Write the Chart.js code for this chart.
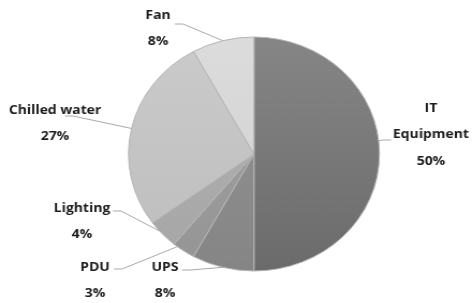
<!DOCTYPE html>
<html>
<head>
<script src="https://cdn.jsdelivr.net/npm/chart.js@4.4.1/dist/chart.umd.min.js"></script>
<style>
    html, body { margin: 0; padding: 0; background: #fff; overflow: hidden; }
    #wrap { width: 440px; height: 303px; transform: scaleX(1.0727); transform-origin: 0 0; }
</style>
</head>
<body>
<div id="wrap">
    <canvas id="pieChart" width="440" height="303"></canvas>
</div>

<script>
    // data
    var categories = ["IT Equipment", "UPS", "PDU", "Lighting", "Chilled water", "Fan"];
    var shares = [50, 8, 3, 4, 27, 8];

    // grey shades, top and bottom of the pie
    var shadeTop = ["#868686", "#959595", "#a2a2a2", "#b2b2b2", "#cbcbcb", "#dcdcdc"];
    var shadeBottom = ["#6b6b6b", "#858585", "#959595", "#a6a6a6", "#bdbdbd", "#d0d0d0"];

    // label placement in page pixels: lines of text, centre of first line,
    // where the leader starts, which way the elbow goes, where on the slice it ends
    var sx = 472 / 440;
    var labelLines = [["IT", "Equipment"], ["UPS"], ["PDU"], ["Lighting"], ["Chilled water"], ["Fan"]];
    var labelPos = [[431, 108], [165, 267], [95, 267], [82, 208], [55, 110], [158, 15]];
    var leadStart = [[391, 140], [182, 270], [114, 269], [113, 211], [65, 116], [175, 24]];
    var leadDir = [-1, 1, 1, 1, 1, 1];
    var leadAt = [0.464, 0.5, 0.82, 0.64, 0.5, 0.5];

    var lineGap = 26.5;

    var labelPlugin = {
        id: "outLabels",
        afterDatasetsDraw: function (chart) {
            var ctx = chart.ctx;
            var arcs = chart.getDatasetMeta(0).data;
            var total = shares.reduce(function (a, b) { return a + b; }, 0);
            ctx.save();
            // leader lines
            ctx.strokeStyle = "#a8a8a8";
            ctx.lineWidth = 1;
            for (var i = 0; i < arcs.length; i++) {
                var a = arcs[i];
                var ang = a.startAngle + leadAt[i] * (a.endAngle - a.startAngle);
                var px = a.x + a.outerRadius * Math.cos(ang);
                var py = a.y + a.outerRadius * Math.sin(ang);
                var x0 = leadStart[i][0] / sx;
                var y0 = leadStart[i][1];
                ctx.beginPath();
                ctx.moveTo(x0, y0);
                ctx.lineTo(x0 + leadDir[i] * 8 / sx, y0);
                ctx.lineTo(px, py);
                ctx.stroke();
            }
            // texts
            ctx.fillStyle = "#1c1c1c";
            ctx.font = "bold 13px 'Open Sans'";
            ctx.textAlign = "center";
            ctx.textBaseline = "middle";
            for (var j = 0; j < arcs.length; j++) {
                var lines = labelLines[j].concat([Math.round(shares[j] / total * 100) + "%"]);
                var tx = labelPos[j][0] / sx;
                for (var k = 0; k < lines.length; k++) {
                    ctx.fillText(lines[k], tx, labelPos[j][1] + k * lineGap);
                }
            }
            ctx.restore();
        }
    };

    function shade(context) {
        var chart = context.chart;
        var area = chart.chartArea;
        var i = context.dataIndex;
        if (!area) return shadeTop[i];
        var g = chart.ctx.createLinearGradient(0, area.top, 0, area.bottom);
        g.addColorStop(0, shadeTop[i]);
        g.addColorStop(1, shadeBottom[i]);
        return g;
    }

    var cx = 254 / sx, cy = 154, r = 117.5;
    var pie = new Chart(document.getElementById("pieChart").getContext("2d"), {
        type: "pie",
        data: {
            labels: categories,
            datasets: [{
                data: shares,
                backgroundColor: shade,
                borderColor: "#b4b4b4",
                borderWidth: 1,
                hoverOffset: 0
            }]
        },
        options: {
            responsive: false,
            animation: false,
            events: [],
            layout: {
                padding: { left: cx - r, right: 440 - cx - r, top: cy - r, bottom: 303 - cy - r }
            },
            plugins: {
                legend: { display: false },
                tooltip: { enabled: false }
            }
        },
        plugins: [labelPlugin]
    });
</script>
</body>
</html>
